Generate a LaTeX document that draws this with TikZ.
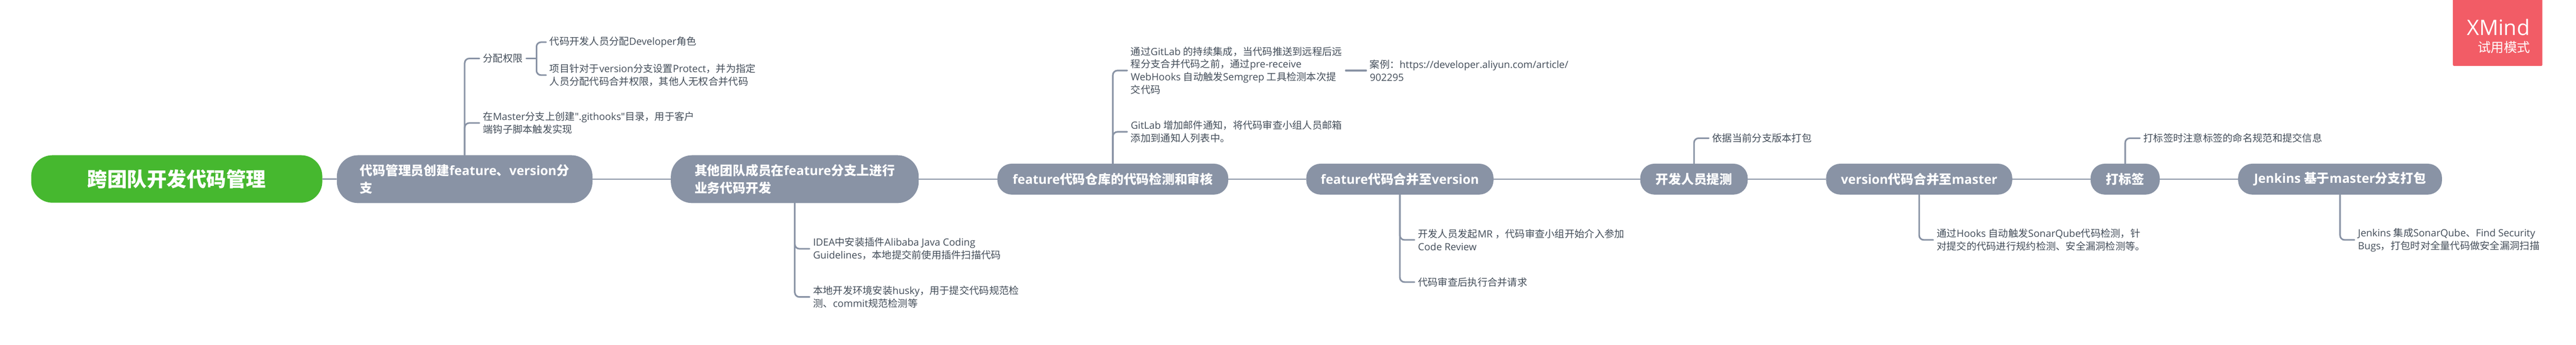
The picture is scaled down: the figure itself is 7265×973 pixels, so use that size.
\documentclass[tikz,border=0pt]{standalone}
\usepackage{fontspec}
\setmainfont{Noto Sans CJK SC}
\newfontfamily\latfont{Open Sans}
\newcommand{\lat}[1]{{\latfont #1}}
\definecolor{rootgreen}{HTML}{46B82F}
\definecolor{slate}{HTML}{8993A5}
\definecolor{leafink}{HTML}{434D59}
\definecolor{brandred}{HTML}{F25C66}
\tikzset{
  rootbox/.style={rectangle, rounded corners=60pt, fill=rootgreen, text=white, inner sep=0pt, font=\fontsize{56}{60}\selectfont\bfseries},
  mainbox/.style={rectangle, rounded corners=40pt, fill=slate, text=white, inner sep=0pt, minimum height=87pt, align=left, font=\fontsize{36}{49}\selectfont\bfseries},
  tallbox/.style={mainbox, rounded corners=60pt, minimum height=135pt},
  leaf/.style={anchor=west, inner xsep=10pt, inner ysep=0pt, align=left, text=leafink, font=\fontsize{28}{36}\selectfont},
  link/.style={draw=slate, line width=4.5pt, line cap=round, rounded corners=13pt},
  trunk/.style={draw=slate, line width=4pt}
}
\begin{document}
\begin{tikzpicture}[x=1pt, y=-1pt]
  \useasboundingbox (0,0) rectangle (7265,973);
  \node[rootbox, minimum width=821pt, minimum height=134pt] (main0) at (498.5,505){跨团队开发代码管理};
  \node[tallbox, minimum width=721pt] (main1) at (1310.5,505.5){代码管理员创建\lat{feature}、\lat{version}分\\支};
  \node[tallbox, minimum width=699pt] (main2) at (2241.5,505.5){其他团队成员在\lat{feature}分支上进行\\业务代码开发};
  \node[mainbox, minimum width=651pt] (main3) at (3138.5,505.5){\lat{feature}代码仓库的代码检测和审核};
  \node[mainbox, minimum width=528pt] (main4) at (3948,505.5){\lat{feature}代码合并至\lat{version}};
  \node[mainbox, minimum width=303pt] (main5) at (4777.5,505.5){开发人员提测};
  \node[mainbox, minimum width=525pt] (main6) at (5412.5,505.5){\lat{version}代码合并至\lat{master}};
  \node[mainbox, minimum width=195pt] (main7) at (5993.5,505.5){打标签};
  \node[mainbox, minimum width=575pt] (main8) at (6599.5,505.5){\lat{Jenkins }基于\lat{master}分支打包};
  \draw[trunk](main0) -- (main1);
  \draw[trunk](main1) -- (main2);
  \draw[trunk](main2) -- (main3);
  \draw[trunk](main3) -- (main4);
  \draw[trunk](main4) -- (main5);
  \draw[trunk](main5) -- (main6);
  \draw[trunk](main6) -- (main7);
  \draw[trunk](main7) -- (main8);
  \node[leaf] (perm) at (1352,165){分配权限};
  \node[leaf] (perm1) at (1540,119){代码开发人员分配\lat{Developer}角色};
  \node[leaf] (perm2) at (1540,212){项目针对于\lat{version}分支设置\lat{Protect}，并为指定\\人员分配代码合并权限，其他人无权合并代码};
  \coordinate (permfork) at (1513,165);
  \node[leaf] (hooks) at (1352,347){在\lat{Master}分支上创建\lat{".githooks"}目录，用于客户\\端钩子脚本触发实现};
  \draw[link](main1.north) |- (perm.west);
  \draw[link](main1.north) |- (hooks.west);
  \draw[link](perm.east) -- (permfork);
  \draw[link](permfork) |- (perm1.west);
  \draw[link](permfork) |- (perm2.west);
  \node[leaf] (idea) at (2283,702){\lat{IDEA}中安装插件\lat{Alibaba Java Coding}\\\lat{Guidelines}，本地提交前使用插件扫描代码};
  \node[leaf] (husky) at (2283,838){本地开发环境安装\lat{husky}，用于提交代码规范检\\测、\lat{commit}规范检测等};
  \draw[link](main2.south) |- (idea.west);
  \draw[link](main2.south) |- (husky.west);
  \node[leaf] (ci) at (3179,199){通过\lat{GitLab }的持续集成，当代码推送到远程后远\\程分支合并代码之前，通过\lat{pre-receive}\\\lat{WebHooks }自动触发\lat{Semgrep }工具检测本次提\\交代码};
  \node[leaf] (mail) at (3179,372){\lat{GitLab }增加邮件通知，将代码审查小组人员邮箱\\添加到通知人列表中。};
  \node[leaf] (case) at (3853,199){案例：\lat{https://developer.aliyun.com/article/}\\\lat{902295}};
  \draw[link](main3.north) |- (ci.west);
  \draw[link](main3.north) |- (mail.west);
  \draw[link](ci.east) -- (case.west);
  \node[leaf] (review) at (3989,677){开发人员发起\lat{MR }，代码审查小组开始介入参加\\\lat{Code Review}};
  \node[leaf] (request) at (3989,796){代码审查后执行合并请求};
  \draw[link](main4.south) |- (review.west);
  \draw[link](main4.south) |- (request.west);
  \node[leaf] (pack) at (4819,390){依据当前分支版本打包};
  \draw[link](main5.north) |- (pack.west);
  \node[leaf] (sonar) at (5452,677){通过\lat{Hooks }自动触发\lat{SonarQube}代码检测，针\\对提交的代码进行规约检测、安全漏洞检测等。};
  \draw[link](main6.south) |- (sonar.west);
  \node[leaf] (tagname) at (6035,390){打标签时注意标签的命名规范和提交信息};
  \draw[link](main7.north) |- (tagname.west);
  \node[leaf] (scan) at (6640,677){\lat{Jenkins }集成\lat{SonarQube}、\lat{Find Security}\\\lat{Bugs}，打包时对全量代码做安全漏洞扫描};
  \draw[link](main8.south) |- (scan.west);
  \node[rectangle, rounded corners=3pt, fill=brandred, inner sep=0pt, minimum width=252pt, minimum height=196pt] (brand) at (7044,88){};
  \node[anchor=east, inner sep=0pt, text=white, font=\fontsize{60}{60}\selectfont] (brandname) at (7135,77){\lat{XMind}};
  \node[anchor=east, inner sep=0pt, text=white, font=\fontsize{37}{40}\selectfont] (brandmode) at (7136,133){试用模式};
\end{tikzpicture}
\end{document}
